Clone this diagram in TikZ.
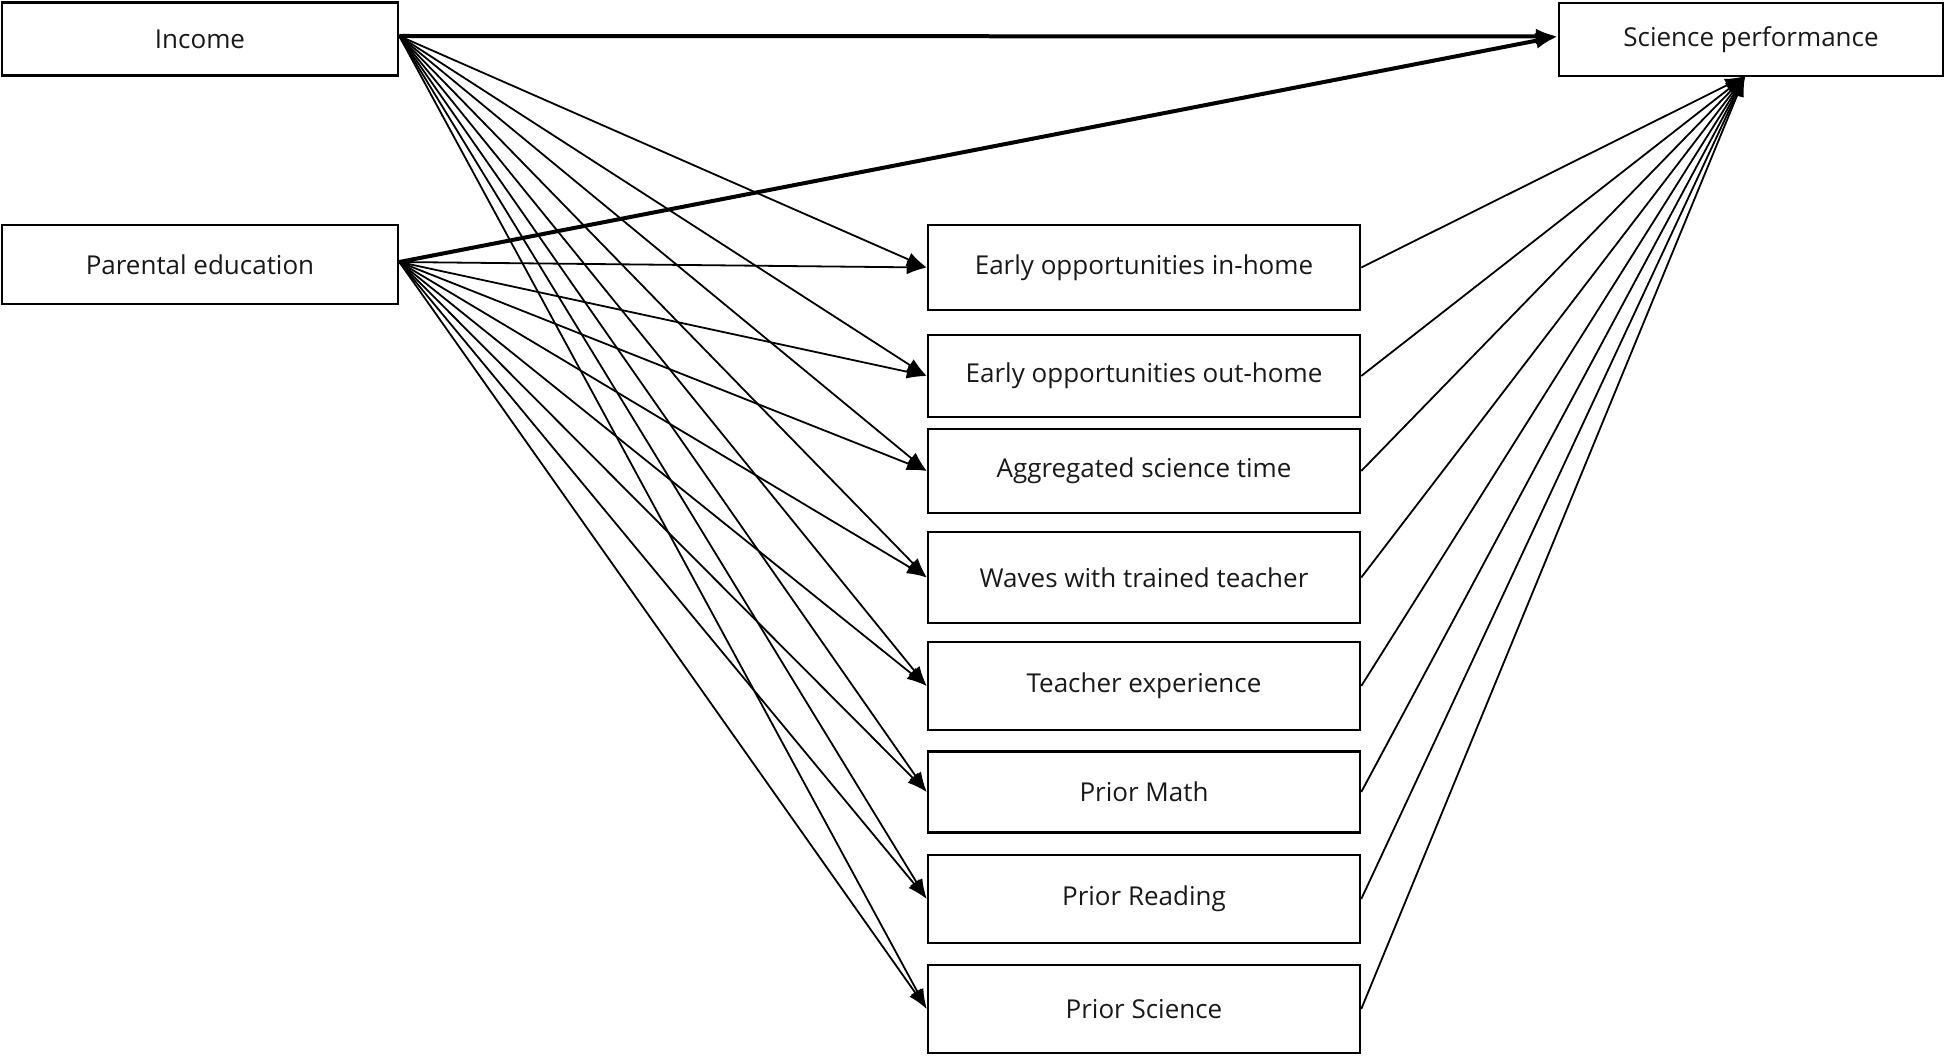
\documentclass[tikz,border=0pt]{standalone}
\usepackage{fontspec}
\setmainfont{Open Sans}
\usetikzlibrary{arrows.meta}
\begin{document}
\begin{tikzpicture}[x=1pt,y=-1pt,
  box/.style={draw=black,line width=2.5pt,rectangle,inner sep=0pt,font=\fontsize{26}{30}\selectfont,text=black!90},
  thin/.style={line width=1.8pt,-{Latex[length=20pt,width=14pt]}},
  thick/.style={line width=4pt,-{Latex[length=22pt,width=16pt]}}]
\useasboundingbox (0,0) rectangle (1946,1056);
\node[box,minimum width=396pt,minimum height=73pt] (inc) at (200,39) {Income};
\node[box,minimum width=396pt,minimum height=79pt] (par) at (200,264.5) {Parental education};
\node[box,minimum width=384pt,minimum height=73pt] (sp) at (1751,39.5) {Science performance};
\node[box,minimum width=432pt,minimum height=85pt] (m1) at (1144,267.5) {Early opportunities in-home};
\node[box,minimum width=432pt,minimum height=82pt] (m2) at (1144,376) {Early opportunities out-home};
\node[box,minimum width=432pt,minimum height=84pt] (m3) at (1144,471) {Aggregated science time};
\node[box,minimum width=432pt,minimum height=91pt] (m4) at (1144,577.5) {Waves with trained teacher};
\node[box,minimum width=432pt,minimum height=88pt] (m5) at (1144,686) {Teacher experience};
\node[box,minimum width=432pt,minimum height=81pt] (m6) at (1144,792) {Prior Math};
\node[box,minimum width=432pt,minimum height=88pt] (m7) at (1144,899) {Prior Reading};
\node[box,minimum width=432pt,minimum height=88pt] (m8) at (1144,1009) {Prior Science};
\coordinate (incout) at ([yshift=3pt]inc.east);
\coordinate (parout) at ([yshift=2.5pt]par.east);
\coordinate (spleft) at ([yshift=3pt]sp.west);
\coordinate (spin) at ([xshift=-6pt,yshift=1pt]sp.south);
\draw[thick] (incout) -- (spleft);
\draw[thick] (parout) -- (spleft);
\foreach \m in {m1,m2,m3,m4,m5,m6,m7,m8}{
  \draw[thin] (incout) -- (\m.west);
  \draw[thin] (parout) -- (\m.west);
  \draw[thin] (\m.east) -- (spin);
}
\end{tikzpicture}
\end{document}
